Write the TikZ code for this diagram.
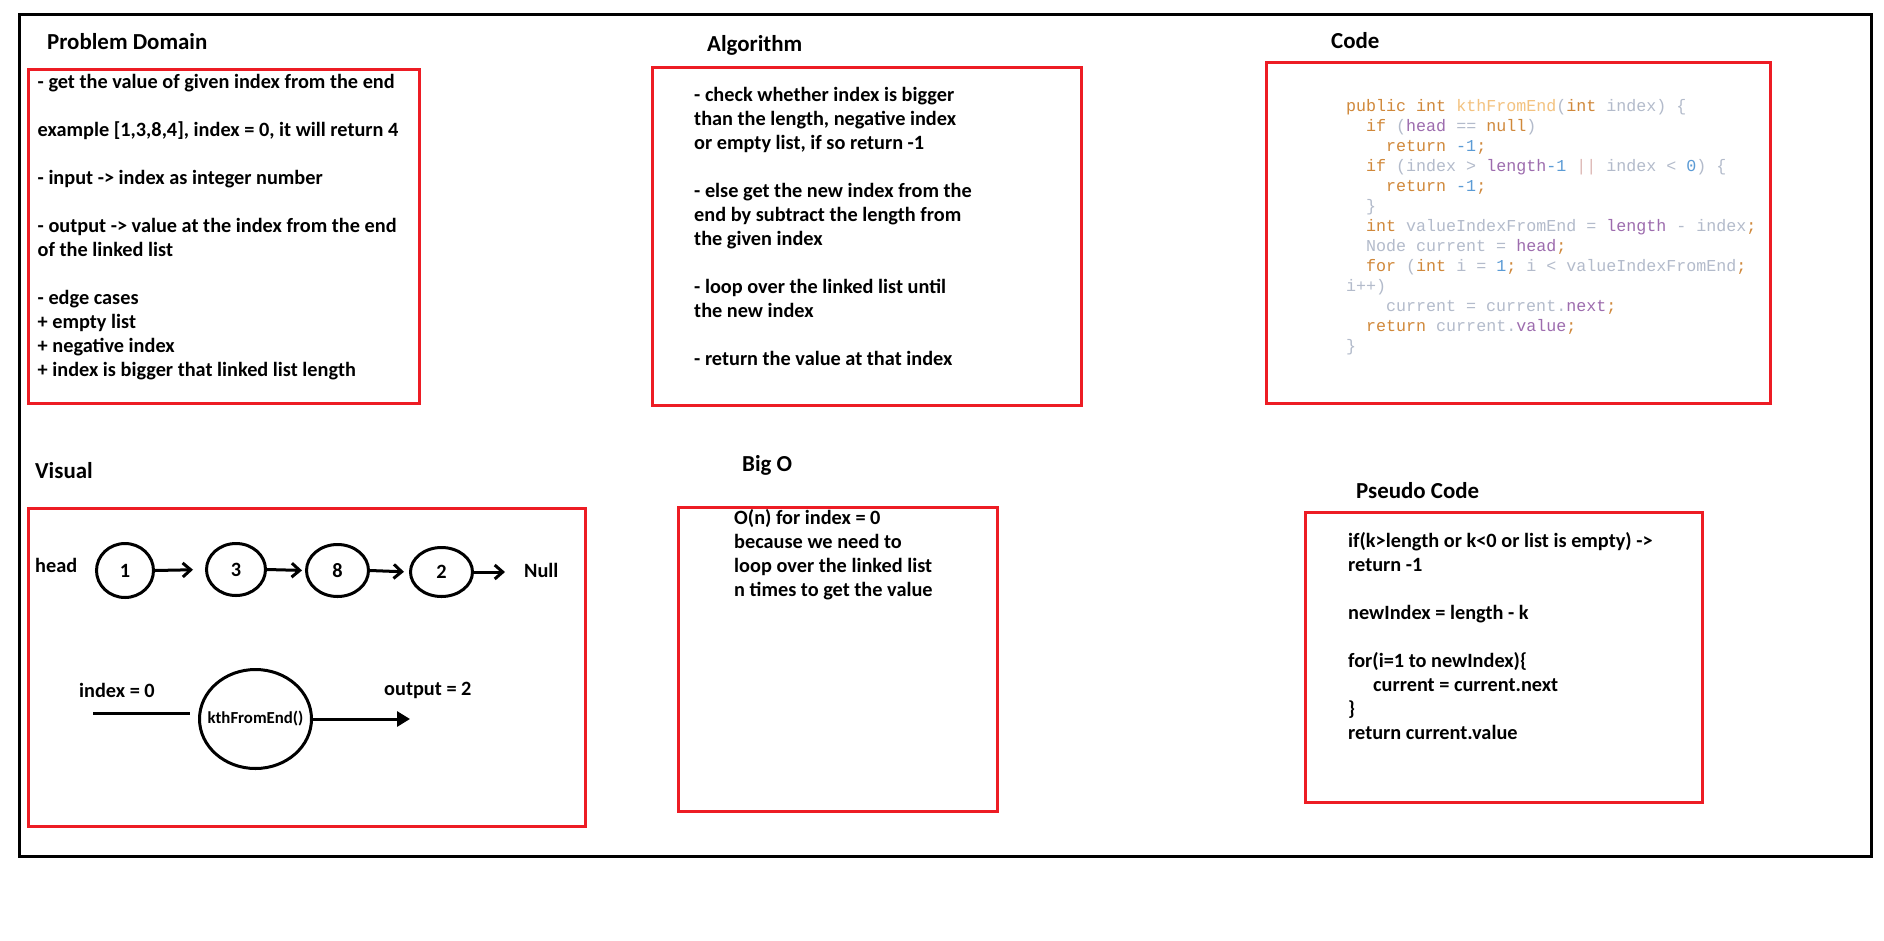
\documentclass[tikz,border=0pt]{standalone}
\usepackage{fontspec}
\setmainfont{Carlito}
\newfontfamily\codefont{Liberation Mono}
\usetikzlibrary{shapes.geometric,arrows.meta}
\definecolor{boxred}{HTML}{ED1C24}
\definecolor{ckwc}{HTML}{D0883A}
\definecolor{cfnc}{HTML}{F3C27F}
\definecolor{cidc}{HTML}{B3BBCB}
\definecolor{cprc}{HTML}{9D6CAE}
\definecolor{cnmc}{HTML}{5B9BD5}
\definecolor{cpipec}{HTML}{DDB7B4}
\newcommand\ckw[1]{\textcolor{ckwc}{#1}}
\newcommand\cfn[1]{\textcolor{cfnc}{#1}}
\newcommand\cid[1]{\textcolor{cidc}{#1}}
\newcommand\cpr[1]{\textcolor{cprc}{#1}}
\newcommand\cnm[1]{\textcolor{cnmc}{#1}}
\newcommand\cpipe[1]{\textcolor{cpipec}{#1}}
\newcommand\txtblock[1]{\parbox[t]{460pt}{\raggedright #1}}
\tikzset{
  frame/.style={draw=black, line width=3pt},
  redbox/.style={draw=boxred, line width=3pt},
  title/.style={font=\fontsize{22.9}{27}\selectfont\bfseries, anchor=base west, inner sep=0pt},
  body/.style={font=\fontsize{20.3}{24}\selectfont\bfseries, anchor=base west, inner sep=0pt},
  codetxt/.style={font=\fontsize{16.67}{20}\selectfont\codefont, anchor=base west, inner sep=0pt},
  lnode/.style={ellipse, draw=black, line width=3pt, inner sep=0pt, font=\fontsize{20.3}{24}\selectfont\bfseries},
  fnlabel/.style={font=\fontsize{16.8}{20}\selectfont\bfseries, inner sep=0pt},
  lnk/.style={line width=3pt, -{Straight Barb[length=8pt,width=14pt]}},
  outarr/.style={line width=3pt, -{Triangle[length=13pt,width=15pt]}},
  plainln/.style={line width=3pt}
}
\begin{document}
\begin{tikzpicture}[x=1pt,y=-1pt]
\useasboundingbox (0,0) rectangle (1884,940);
\fill[white] (0,0) rectangle (1884,940);

% outer frame
\draw[frame] (19,14) rectangle (1871,856);

% red boxes
\draw[redbox] (28,69) rectangle (419,403);
\draw[redbox] (652,67) rectangle (1081,405);
\draw[redbox] (1266,62) rectangle (1770,403);
\draw[redbox] (28,508) rectangle (585,826);
\draw[redbox] (678,507) rectangle (997,811);
\draw[redbox] (1305,512) rectangle (1702,802);

% titles
\node[title] (tpd) at (47,49.6) {Problem Domain};
\node[title] (talg) at (707,51.3) {Algorithm};
\node[title] (tcode) at (1331,48.6) {Code};
\node[title] (tvis) at (35,478.6) {Visual};
\node[title] (tbig) at (742,471.6) {Big O};
\node[title] (tpseudo) at (1356,498.6) {Pseudo Code};

% problem domain
\node[body] (pd) at (37.5,88) {\txtblock{%
- get the value of given index from the end\\[24pt]
example [1,3,8,4], index = 0, it will return 4\\[24pt]
- input -> index as integer number\\[24pt]
- output -> value at the index from the end\\
of the linked list\\[24pt]
- edge cases\\
+ empty list\\
+ negative index\\
+ index is bigger that linked list length}};

% algorithm
\node[body] (alg) at (694,101) {\txtblock{%
- check whether index is bigger\\
than the length, negative index\\
or empty list, if so return -1\\[24pt]
- else get the new index from the\\
end by subtract the length from\\
the given index\\[24pt]
- loop over the linked list until\\
the new index\\[24pt]
- return the value at that index}};

% code
\node[codetxt] (code) at (1346,111) {\txtblock{%
\ckw{public int} \cfn{kthFromEnd}\cid{(}\ckw{int} \cid{index) \{}\\
\hspace*{20pt}\ckw{if} \cid{(}\cpr{head} \cid{==} \ckw{null}\cid{)}\\
\hspace*{40pt}\ckw{return} \cnm{-1}\ckw{;}\\
\hspace*{20pt}\ckw{if} \cid{(index >} \cpr{length}\cnm{-1} \cpipe{||} \cid{index <} \cnm{0}\cid{) \{}\\
\hspace*{40pt}\ckw{return} \cnm{-1}\ckw{;}\\
\hspace*{20pt}\cid{\}}\\
\hspace*{20pt}\ckw{int} \cid{valueIndexFromEnd =} \cpr{length} \cid{- index}\ckw{;}\\
\hspace*{20pt}\cid{Node current =} \cpr{head}\ckw{;}\\
\hspace*{20pt}\ckw{for} \cid{(}\ckw{int} \cid{i =} \cnm{1}\ckw{;} \cid{i < valueIndexFromEnd}\ckw{;}\\
\cid{i++)}\\
\hspace*{40pt}\cid{current = current.}\cpr{next}\ckw{;}\\
\hspace*{20pt}\ckw{return} \cid{current.}\cpr{value}\ckw{;}\\
\cid{\}}}};

% big O
\node[body] (bigo) at (734,524) {\txtblock{%
O(n) for index = 0\\
because we need to\\
loop over the linked list\\
n times to get the value}};

% pseudo code
\node[body] (pseudo) at (1348,547) {\txtblock{%
if(k>length or k<0 or list is empty) ->\\
return -1\\[24pt]
newIndex = length - k\\[24pt]
for(i=1 to newIndex)\{\\
\hspace*{25pt}current = current.next\\
\}\\
return current.value}};

% visual: linked list
\node[body] (head) at (35,572) {head};
\node[lnode, minimum width=57pt, minimum height=54pt] (n1) at (125,570.5) {1};
\node[lnode, minimum width=59pt, minimum height=52pt] (n3) at (236,569.5) {3};
\node[lnode, minimum width=62pt, minimum height=52pt] (n8) at (337.5,570.5) {8};
\node[lnode, minimum width=62pt, minimum height=49pt] (n2) at (441.5,572) {2};
\node[body] (null) at (524,577.7) {Null};
\draw[lnk, shorten >=12pt] (n1.east) -- (n3.west);
\draw[lnk, shorten >=3pt] (n3.east) -- (n8.west);
\draw[lnk, shorten >=5pt] (n8.east) -- (n2.west);
\draw[lnk, shorten >=19pt] (n2.east) -- (n2.east -| null.west);

% visual: function
\node[lnode, minimum width=112pt, minimum height=99pt] (fn) at (255.5,719) {};
\node[fnlabel] (fnt) at (fn.center) {kthFromEnd()};
\node[body] (inlbl) at (79,697) {index = 0};
\node[body] (outlbl) at (384,695) {output = 2};
\coordinate (inS) at (93,713);
\coordinate (outE) at (410,719);
\draw[plainln, shorten >=8pt] (inS) -- (inS -| fn.west);
\draw[outarr] (fn.east) -- (outE);
\end{tikzpicture}
\end{document}
